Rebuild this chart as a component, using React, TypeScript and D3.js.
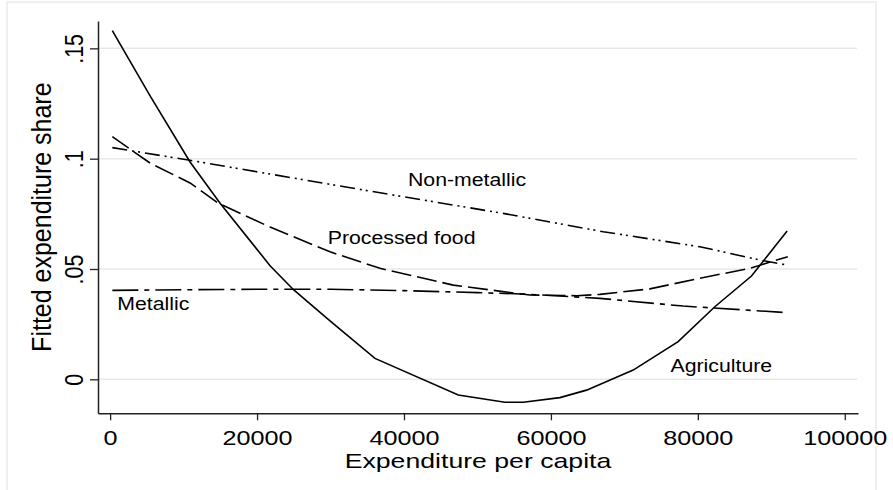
import React, { useEffect, useRef } from 'react';
import * as d3 from 'd3';

// fitted shares (expenditure per capita, share)
const agriculture: [number, number][] = [
  [300, 0.158], [5440, 0.1285], [10880, 0.0985], [14970, 0.0798], [21770, 0.0515],
  [25000, 0.0405], [29930, 0.0265], [36050, 0.0095], [47390, -0.0071], [53740, -0.0104],
  [56230, -0.0104], [61220, -0.0083], [64850, -0.0049], [71200, 0.0042], [77320, 0.0171],
  [82310, 0.0329], [87300, 0.0468], [92150, 0.0672],
];
const processedFood: [number, number][] = [
  [300, 0.110], [5440, 0.098], [10880, 0.089], [14740, 0.0798], [21770, 0.069],
  [29930, 0.0578], [36730, 0.0503], [46710, 0.0427], [57140, 0.0382], [63490, 0.0379],
  [66670, 0.0385], [73470, 0.0410], [80270, 0.0458], [87070, 0.0503], [92240, 0.0556],
];
const metallic: [number, number][] = [
  [300, 0.0403], [10000, 0.0406], [20000, 0.0408], [30000, 0.0408], [40000, 0.0402],
  [50000, 0.0393], [56000, 0.0387], [60000, 0.0380], [66670, 0.0367], [78000, 0.0332],
  [92240, 0.0302],
];
const nonMetallic: [number, number][] = [
  [300, 0.105], [10650, 0.0994], [25170, 0.0911], [35370, 0.0853], [53510, 0.0752],
  [67120, 0.0669], [80270, 0.0601], [88430, 0.0541], [92150, 0.0518],
];

const xTicks = [0, 20000, 40000, 60000, 80000, 100000];
const yTicks = [0, 0.05, 0.1, 0.15];
const yTickLabels = ['0', '.05', '.1', '.15'];

const seriesNames = ['Agriculture', 'Processed food', 'Metallic', 'Non-metallic'];
const seriesData = [agriculture, processedFood, metallic, nonMetallic];
const seriesDash = ['none', '20,6', '26,6,5,6', '15,5,2,4,2,5'];
// label anchors in data units (left edge, baseline)
const labelAt: [number, number][] = [
  [76280, 0.0035], [29620, 0.0612], [980, 0.0315], [40540, 0.0876],
];

const W = 893;
const H = 490;
const FONT = '"Liberation Sans", Arial, Helvetica, sans-serif';

export default function App() {
  const svgRef = useRef<SVGSVGElement>(null);

  useEffect(() => {
    if (!svgRef.current) return;
    const svg = d3.select(svgRef.current);
    svg.selectAll('*').remove();

    const x = d3.scaleLinear().domain([-1650, 101800]).range([98, 858]);
    const y = d3.scaleLinear().domain([-0.0154, 0.1624]).range([413.3, 21]);

    // outer graph region border
    svg.append('rect')
      .attr('x', 7).attr('y', 2).attr('width', 869).attr('height', 520)
      .attr('fill', '#fff').attr('stroke', '#e6e6e6').attr('stroke-width', 1.2);

    // gridlines
    svg.append('g').selectAll('line').data(yTicks).enter().append('line')
      .attr('x1', 98).attr('x2', 857)
      .attr('y1', (d) => y(d)).attr('y2', (d) => y(d))
      .attr('stroke', '#e8e8e8').attr('stroke-width', 1.5);

    // x axis
    const gx = svg.append('g').attr('transform', `translate(0,${y.range()[0]})`)
      .call(d3.axisBottom(x).tickValues(xTicks).tickSize(7).tickSizeOuter(0).tickFormat((d) => String(d)));
    gx.select('.domain').attr('stroke', '#222').attr('stroke-width', 1.5);
    gx.selectAll('.tick line').attr('stroke', '#222').attr('stroke-width', 1.3);
    gx.selectAll('.tick text').remove();
    gx.selectAll('.tick').append('text')
      .attr('transform', 'translate(0,32) scale(1.2,1)')
      .attr('text-anchor', 'middle')
      .attr('font-family', FONT).attr('font-size', 21).attr('fill', '#000')
      .text((d: any) => String(d));

    // y axis
    const gy = svg.append('g').attr('transform', `translate(${x.range()[0]},0)`)
      .call(d3.axisLeft(y).tickValues(yTicks).tickSize(8).tickSizeOuter(0));
    gy.select('.domain').attr('stroke', '#222').attr('stroke-width', 1.5);
    gy.selectAll('.tick line').attr('stroke', '#222').attr('stroke-width', 1.3);
    gy.selectAll('.tick text').remove();
    gy.selectAll('.tick').append('text')
      .attr('transform', 'translate(-15,0) rotate(-90) scale(1,1.16)')
      .attr('text-anchor', 'middle')
      .attr('font-family', FONT).attr('font-size', 21.5).attr('fill', '#000')
      .text((_d: any, i: number) => yTickLabels[i]);

    // axis titles
    svg.append('text')
      .attr('transform', `translate(${(x.range()[0] + x.range()[1]) / 2},468) scale(1.3,1)`)
      .attr('text-anchor', 'middle')
      .attr('font-family', FONT).attr('font-size', 20.5).attr('fill', '#000')
      .text('Expenditure per capita');
    svg.append('text')
      .attr('transform', `translate(51,${(y.range()[0] + y.range()[1]) / 2}) rotate(-90) scale(1,1.1)`)
      .attr('text-anchor', 'middle')
      .attr('font-family', FONT).attr('font-size', 25).attr('fill', '#000')
      .text('Fitted expenditure share');

    // fitted lines
    const line = d3.line<[number, number]>().x((d) => x(d[0])).y((d) => y(d[1]));
    seriesData.forEach((data, i) => {
      svg.append('path')
        .attr('d', line(data))
        .attr('fill', 'none')
        .attr('stroke', '#000')
        .attr('stroke-width', 1.6)
        .attr('stroke-dasharray', seriesDash[i]);
    });

    // in-plot labels
    seriesNames.forEach((name, i) => {
      const [lx, ly] = labelAt[i];
      svg.append('text')
        .attr('transform', `translate(${x(lx)},${y(ly)}) scale(1.15,1)`)
        .attr('font-family', FONT).attr('font-size', 18.5).attr('fill', '#000')
        .text(name);
    });
  }, []);

  return (
    <div style={{ width: W, height: H, background: '#fff' }}>
      <style>{'body{margin:0;background:#fff}'}</style>
      <svg ref={svgRef} width={W} height={H} style={{ display: 'block' }} />
    </div>
  );
}
